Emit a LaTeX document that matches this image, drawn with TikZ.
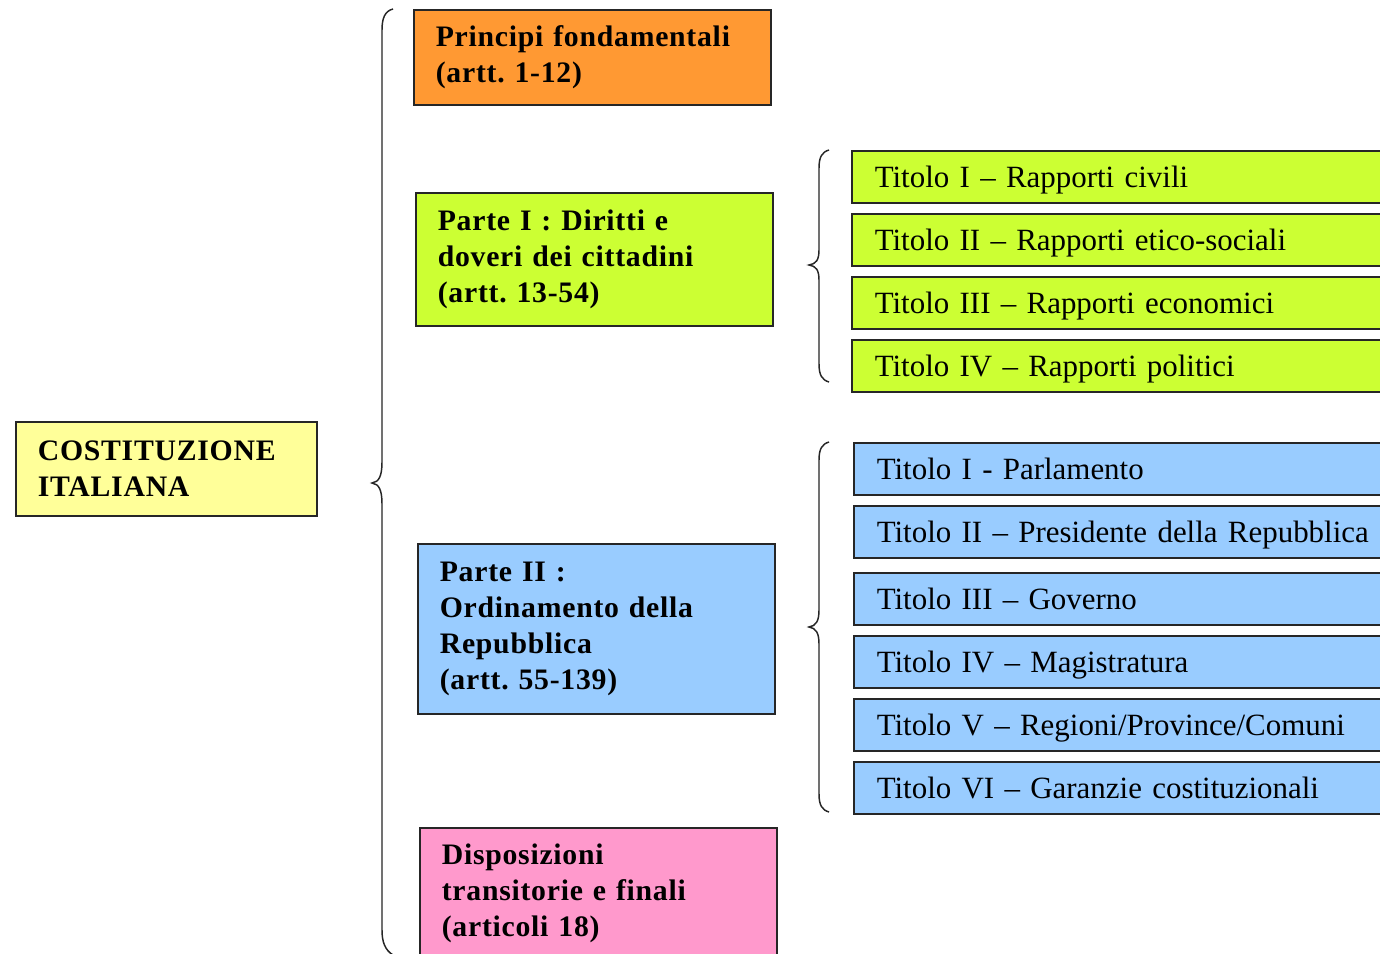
\documentclass[tikz,border=0pt]{standalone}
\usepackage{fontspec}
\setmainfont{Liberation Serif}
\newfontfamily\boldspaced[LetterSpace=2.5]{Liberation Serif}
\usetikzlibrary{shadows}
\definecolor{corange}{HTML}{FF9933}
\definecolor{cgreen}{HTML}{CCFF33}
\definecolor{cblue}{HTML}{99CCFF}
\definecolor{cpink}{HTML}{FF99CC}
\definecolor{cyellow}{HTML}{FFFF99}
\frenchspacing
\begin{document}
\begin{tikzpicture}[x=0.75pt,y=-0.75pt,
  box/.style={draw=black!85, line width=1.2pt, rectangle, anchor=north west, align=left,
    inner xsep={22*0.75pt}, inner ysep=0pt,
    drop shadow={shadow xshift=0.8pt, shadow yshift=-0.8pt, fill=black!35, opacity=1},
    font=\boldspaced\fontsize{22.3}{27}\selectfont\bfseries},
  leftbox/.style={box, minimum width={357*0.75pt}, text width={313*0.75pt}},
  rightbox/.style={box, minimum width={600*0.75pt}, text width={556*0.75pt},
    minimum height={52*0.75pt}, inner xsep={23*0.75pt},
    text height={24*0.75pt}, text depth={3*0.75pt},
    font=\fontsize{23.2}{27}\selectfont},
  bracepath/.style={draw=black!85, line width=1.1pt}]
\useasboundingbox (0,0) rectangle (1380,953);
\clip (0,0) rectangle (1380,953);
\fill[white] (0,0) rectangle (1380,953);

\node[box, fill=cyellow, minimum width={301*0.75pt}, text width={257*0.75pt}, minimum height={94*0.75pt}] (cost) at (15,421) {COSTITUZIONE\\ITALIANA};

\node[leftbox, fill=corange, minimum height={95*0.75pt}] (princ) at (413,9) {Principi fondamentali\\(artt. 1-12)};
\node[leftbox, fill=cgreen, minimum height={133*0.75pt}] (p1) at (415,192) {Parte I : Diritti e\\doveri dei cittadini\\(artt. 13-54)};
\node[leftbox, fill=cblue, minimum height={170*0.75pt}] (p2) at (417,543) {Parte II :\\Ordinamento della\\Repubblica\\(artt. 55-139)};
\node[leftbox, fill=cpink, minimum height={132*0.75pt}] (disp) at (419,827) {Disposizioni\\transitorie e finali\\(articoli 18)};

\node[rightbox, fill=cgreen] (g1) at (851,150) {Titolo I -- Rapporti civili};
\node[rightbox, fill=cgreen] (g2) at (851,213) {Titolo II -- Rapporti etico-sociali};
\node[rightbox, fill=cgreen] (g3) at (851,276) {Titolo III -- Rapporti economici};
\node[rightbox, fill=cgreen] (g4) at (851,339) {Titolo IV -- Rapporti politici};

\node[rightbox, fill=cblue] (b1) at (853,442) {Titolo I - Parlamento};
\node[rightbox, fill=cblue] (b2) at (853,505) {Titolo II -- Presidente della Repubblica};
\node[rightbox, fill=cblue] (b3) at (853,572) {Titolo III -- Governo};
\node[rightbox, fill=cblue] (b4) at (853,635) {Titolo IV -- Magistratura};
\node[rightbox, fill=cblue] (b5) at (853,698) {Titolo V -- Regioni/Province/Comuni};
\node[rightbox, fill=cblue] (b6) at (853,761) {Titolo VI -- Garanzie costituzionali};

% main brace
\draw[bracepath] (393,9) .. controls (385,11) and (382,18) .. (382,30) -- (382,462)
  .. controls (382,476) and (379,482) .. (372,483)
  .. controls (379,484) and (382,490) .. (382,504) -- (382,930)
  .. controls (382,942) and (385,950) .. (393,955);
% green brace
\draw[bracepath] (829,150) .. controls (822,152) and (819,157) .. (819,168) -- (819,250)
  .. controls (819,260) and (816,264) .. (809,265)
  .. controls (816,266) and (819,270) .. (819,280) -- (819,364)
  .. controls (819,375) and (822,380) .. (829,382);
% blue brace
\draw[bracepath] (829,442) .. controls (822,444) and (819,449) .. (819,460) -- (819,610)
  .. controls (819,621) and (816,626) .. (809,627)
  .. controls (816,628) and (819,633) .. (819,644) -- (819,794)
  .. controls (819,805) and (822,810) .. (829,812);
\end{tikzpicture}
\end{document}
